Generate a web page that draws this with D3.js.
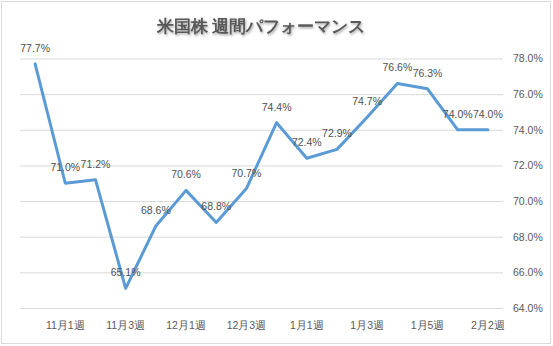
<!DOCTYPE html>
<html>
<head>
<meta charset="utf-8">
<script src="https://cdn.jsdelivr.net/npm/d3@7"></script>
<style>
  html, body { margin: 0; padding: 0; background: #fff; }
  svg { display: block; }
  text { font-family: "Liberation Sans", Arial, sans-serif; }
</style>
</head>
<body>
<svg id="chart" width="553" height="346"></svg>
<script>
// Weekly categories (only every other label is printed on the axis)
const weeks = ["10月5週", "11月1週", "11月2週", "11月3週", "11月4週", "12月1週", "12月2週", "12月3週",
               "12月4週", "1月1週", "1月2週", "1月3週", "1月4週", "1月5週", "2月1週", "2月2週"];
// Weekly performance, percent
const performance = [77.7, 71.0, 71.2, 65.1, 68.6, 70.6, 68.8, 70.7,
                     74.4, 72.4, 72.9, 74.7, 76.6, 76.3, 74.0, 74.0];
// Right-hand axis ticks, percent
const yTicks = [64, 66, 68, 70, 72, 74, 76, 78];
const title = "米国株 週間パフォーマンス";

const svg = d3.select("#chart");
const W = 553, H = 346;
const plot = { left: 20, right: 503, top: 58.5, bottom: 308 };

// outer frame
svg.append("rect")
  .attr("x", 1.5).attr("y", 1.5)
  .attr("width", W - 4).attr("height", H - 4)
  .attr("fill", "#fff").attr("stroke", "#d9d9d9").attr("stroke-width", 1);

const x = d3.scaleBand().domain(weeks).range([plot.left, plot.right]);
const y = d3.scaleLinear().domain([64, 78]).range([plot.bottom, plot.top]);
const cx = d => x(d) + x.bandwidth() / 2;

// drop shadow for the title
const defs = svg.append("defs");
const sh = defs.append("filter").attr("id", "tshadow")
  .attr("x", "-10%").attr("y", "-30%").attr("width", "120%").attr("height", "160%");
sh.append("feDropShadow").attr("dx", 1).attr("dy", 1.5).attr("stdDeviation", 1.2)
  .attr("flood-color", "#000").attr("flood-opacity", 0.35);

svg.append("text")
  .attr("x", 261).attr("y", 32)
  .attr("text-anchor", "middle")
  .attr("font-family", "'Noto Sans CJK JP', sans-serif")
  .attr("font-size", 17).attr("font-weight", "bold")
  .attr("fill", "#595959")
  .attr("filter", "url(#tshadow)")
  .text(title);

// horizontal gridlines + right axis labels
const yAxis = d3.axisRight(y)
  .tickValues(yTicks)
  .tickSize(-(plot.right - plot.left))
  .tickPadding(10)
  .tickFormat(d => d.toFixed(1) + "%");
const gy = svg.append("g").attr("transform", `translate(${plot.right},0)`).call(yAxis);
gy.select(".domain").remove();
gy.selectAll(".tick line").attr("stroke", "#d9d9d9").attr("stroke-width", 1);
gy.selectAll(".tick text")
  .attr("fill", "#595959").attr("font-size", 10.5)
  .attr("font-family", "'Liberation Sans', Arial, sans-serif");

// category axis labels (every second week)
const xAxis = d3.axisBottom(x)
  .tickValues(weeks.filter((d, i) => i % 2 === 1))
  .tickSize(0).tickPadding(14);
const gx = svg.append("g").attr("transform", `translate(0,${plot.bottom})`).call(xAxis);
gx.select(".domain").remove();
gx.selectAll(".tick text")
  .attr("fill", "#595959").attr("font-size", 10.5)
  .attr("font-family", "'Noto Sans CJK JP', sans-serif");

// performance line
const line = d3.line()
  .x((d, i) => cx(weeks[i]))
  .y(d => y(d));
svg.append("path")
  .datum(performance)
  .attr("d", line)
  .attr("fill", "none")
  .attr("stroke", "#5b9bd5")
  .attr("stroke-width", 3)
  .attr("stroke-linejoin", "round")
  .attr("stroke-linecap", "round");

// value labels above each point
svg.append("g").selectAll("text")
  .data(performance)
  .join("text")
  .attr("x", (d, i) => cx(weeks[i]))
  .attr("y", d => y(d) - 12)
  .attr("text-anchor", "middle")
  .attr("font-size", 10.5)
  .attr("fill", "#505050")
  .text(d => d.toFixed(1) + "%");
</script>
</body>
</html>
